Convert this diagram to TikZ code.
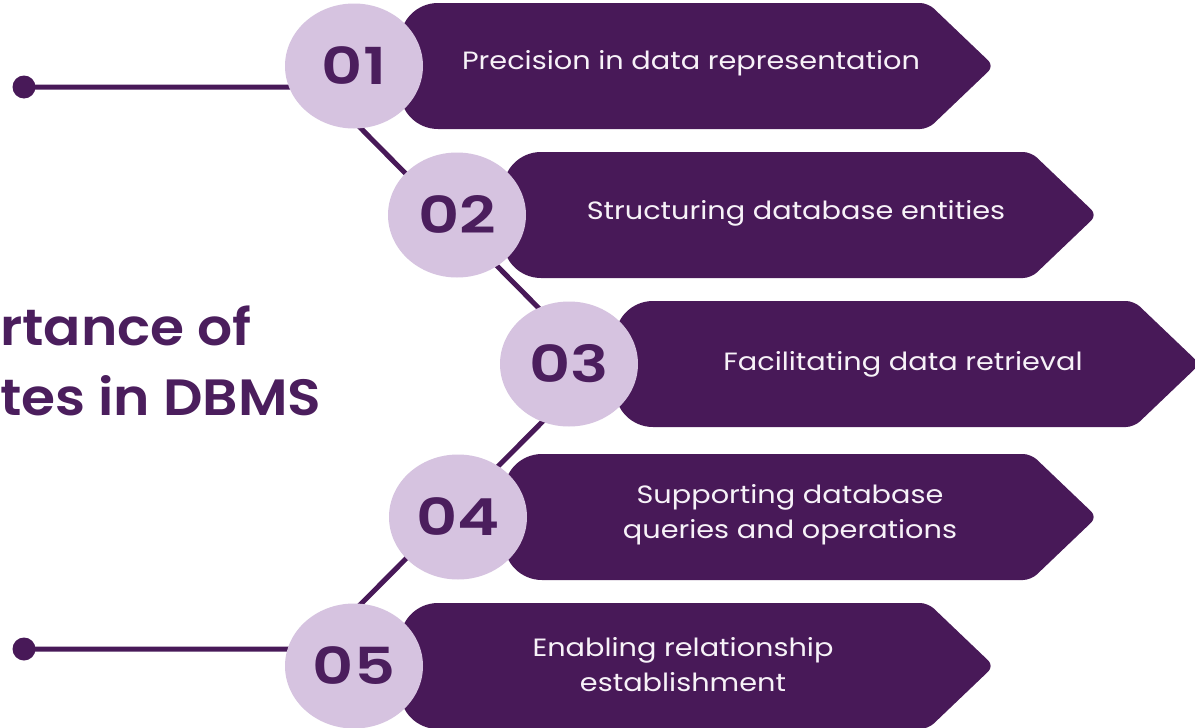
\documentclass[tikz,border=0pt]{standalone}
\usepackage{fontspec}
\setmainfont{Poppins}
\newfontfamily\popwide{Poppins}[FakeStretch=1.15]
\newfontfamily\popnum{Poppins SemiBold}[FakeStretch=1.25]
\newfontfamily\poptitle{Poppins SemiBold}[FakeStretch=1.08]
\usetikzlibrary{shapes.geometric}
\definecolor{deep}{HTML}{481958}
\definecolor{lilac}{HTML}{D6C3E0}
\definecolor{numc}{HTML}{4B1E5D}
\definecolor{soft}{HTML}{F7F2F8}
\newcommand\drawbanner[3]{% center x, center y, tip x
  \fill[deep] ({#1+200},{#2-63}) [rounded corners=8pt] -- ({#3-66},{#2-63}) -- (#3,#2)
    -- ({#3-66},{#2+63}) -- ({#1+200},{#2+63}) [rounded corners=38pt]
    -- ({#1+46},{#2+63}) -- ({#1+46},{#2-63}) -- cycle;}
\begin{document}
\begin{tikzpicture}[x=1pt,y=-1pt,
  conn/.style={draw=deep,line width=5pt},
  dotnode/.style={circle,fill=deep,minimum size=23pt,inner sep=0pt},
  numcircle/.style={ellipse,fill=lilac,minimum width=138pt,minimum height=125pt,inner sep=0pt,text=numc,
    font=\popnum\fontsize{51}{51}\selectfont},
  bantext/.style={text=soft,font=\popwide\fontsize{25}{35}\selectfont,align=center},
  titletext/.style={text=numc,font=\poptitle\fontsize{51}{60}\selectfont,anchor=base west,inner sep=0pt}]
\useasboundingbox (0,0) rectangle (1195,728);
\clip (0,0) rectangle (1195,728);
\fill[white] (0,0) rectangle (1195,728);
% banners
\drawbanner{354}{66}{994}
\drawbanner{457}{215}{1097}
\drawbanner{569}{364}{1200}
\drawbanner{458}{517}{1097}
\drawbanner{354}{666}{994}
% connector
\node[dotnode] (d1) at (24,87) {};
\node[dotnode] (d5) at (24,649) {};
\coordinate (k1) at (320,87);
\coordinate (k3) at (597,367);
\coordinate (k5) at (316,649);
\draw[conn] (d1.center) -- (k1) -- (k3) -- (k5) -- (d5.center);
% circles
\node[numcircle] (c1) at (354,66) {01};
\node[numcircle] (c2) at (457,215) {02};
\node[numcircle] (c3) at (569,364) {03};
\node[numcircle] (c4) at (458,517) {04};
\node[numcircle] (c5) at (354,666) {05};
% banner texts
\node[bantext] (t1) at (691,63) {Precision in data representation};
\node[bantext] (t2) at (796,213) {Structuring database entities};
\node[bantext] (t3) at (903,364) {Facilitating data retrieval};
\node[bantext] (t4) at (790,515) {Supporting database\\queries and operations};
\node[bantext] (t5) at (683,665) {Enabling relationship\\establishment};
% title
\node[titletext] (h1) at (0,345) {rtance of};
\node[titletext] (h2) at (0,415) {tes in DBMS};
\end{tikzpicture}
\end{document}
